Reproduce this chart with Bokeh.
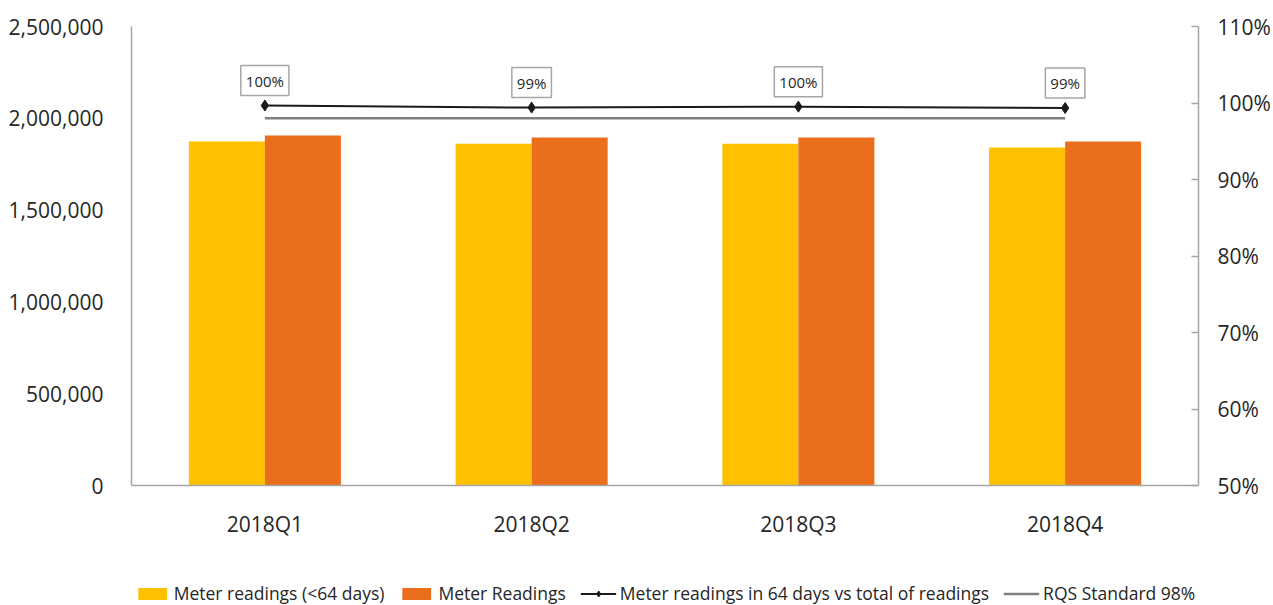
from bokeh.plotting import figure
from bokeh.layouts import column
from bokeh.models import (ColumnDataSource, FactorRange, Range1d, LinearAxis, NumeralTickFormatter,
                          FixedTicker, Legend, LegendItem)
from bokeh.core.properties import value
from bokeh.transform import dodge
from bokeh.embed import file_html
from bokeh.resources import INLINE

quarters = ["2018Q1", "2018Q2", "2018Q3", "2018Q4"]
readings_lt64 = [1873000, 1862000, 1862000, 1841000]
readings_total = [1906000, 1895000, 1895000, 1873000]
pct_in_64 = [0.9967, 0.9940, 0.9952, 0.9935]
pct_labels = ["100%", "99%", "100%", "99%"]
rqs_standard = [0.98, 0.98, 0.98, 0.98]
series_names = ["Meter readings (<64 days)", "Meter Readings",
                "Meter readings in 64 days vs total of readings", "RQS Standard 98%"]

src = ColumnDataSource(dict(q=quarters, a=readings_lt64, b=readings_total,
                            pct=pct_in_64, lab=pct_labels, rqs=rqs_standard))

FONT = "Open Sans"
TXT = "#262626"
AX = "#a6a6a6"
YEL = "#FFC000"
ORA = "#EA6E1B"
BLK = "#1a1a1a"
GRY = "#7f7f7f"

p = figure(x_range=FactorRange(*quarters), y_range=Range1d(0, 2500000),
           width=1273, height=555, output_backend="svg", toolbar_location=None,
           min_border_left=131, min_border_top=26, min_border_bottom=70, min_border_right=75)
p.extra_y_ranges = {"pct": Range1d(0.5, 1.1)}
p.outline_line_color = None
p.xgrid.grid_line_color = None
p.ygrid.grid_line_color = None

p.vbar(x=dodge("q", -0.1425, range=p.x_range), top="a", width=0.285, source=src,
       color=YEL, line_color=None)
p.vbar(x=dodge("q", 0.1425, range=p.x_range), top="b", width=0.285, source=src,
       color=ORA, line_color=None)
p.line(x="q", y="rqs", source=src, y_range_name="pct", line_color=GRY, line_width=2.5)
p.line(x="q", y="pct", source=src, y_range_name="pct", line_color=BLK, line_width=2)
p.scatter(x="q", y="pct", source=src, y_range_name="pct", marker="diamond", size=11, color=BLK)

p.text(x="q", y="pct", text="lab", source=src, y_range_name="pct", y_offset=-10,
       text_align="center", text_baseline="bottom", text_font=value(FONT), text_font_size="15px",
       text_color=TXT, border_line_color="#a6a6a6", border_line_width=1.5,
       background_fill_color="white", padding=5)

# axes
p.yaxis.ticker = FixedTicker(ticks=[0, 500000, 1000000, 1500000, 2000000, 2500000])
p.yaxis.formatter = NumeralTickFormatter(format="0,0")
for ax in [p.yaxis[0], p.xaxis[0]]:
    ax.axis_line_color = AX
    ax.axis_line_width = 1.5
    ax.major_tick_line_color = None
    ax.minor_tick_line_color = None
    ax.major_label_text_font = FONT
    ax.major_label_text_font_size = "21px"
    ax.major_label_text_color = TXT
p.yaxis.major_label_standoff = 22
p.xaxis.major_label_standoff = 18

ra = LinearAxis(y_range_name="pct", ticker=FixedTicker(ticks=[0.5, 0.6, 0.7, 0.8, 0.9, 1.0, 1.1]),
                formatter=NumeralTickFormatter(format="0%"))
ra.axis_line_color = AX
ra.axis_line_width = 1.5
ra.major_tick_line_color = AX
ra.major_tick_line_width = 1.5
ra.major_tick_in = 7
ra.major_tick_out = 0
ra.minor_tick_line_color = None
ra.major_label_text_font = FONT
ra.major_label_text_font_size = "21px"
ra.major_label_text_color = TXT
ra.major_label_standoff = 19
p.add_layout(ra, "right")

# legend strip below the chart (series drawn out of view, only their legend entries show)
lg = figure(width=1273, height=50, output_backend="svg", toolbar_location=None,
            x_range=FactorRange(*quarters), y_range=Range1d(5e6, 6e6),
            min_border_left=131, min_border_right=75, min_border_top=0, min_border_bottom=0)
lg.axis.visible = False
lg.grid.visible = False
lg.outline_line_color = None
l1 = lg.vbar(x="q", top="a", width=0.285, source=src, color=YEL, line_color=None)
l2 = lg.vbar(x="q", top="b", width=0.285, source=src, color=ORA, line_color=None)
l3 = lg.line(x="q", y="pct", source=src, line_color=BLK, line_width=2)
l3m = lg.scatter(x="q", y="pct", source=src, marker="diamond", size=11, color=BLK)
l4 = lg.line(x="q", y="rqs", source=src, line_color=GRY, line_width=2.5)
legend = Legend(items=[
    LegendItem(label=series_names[0], renderers=[l1]),
    LegendItem(label=series_names[1], renderers=[l2]),
    LegendItem(label=series_names[2], renderers=[l3, l3m]),
    LegendItem(label=series_names[3], renderers=[l4]),
], orientation="horizontal", location="bottom_center", background_fill_alpha=0, margin=0,
    border_line_color=None, label_text_font=FONT, label_text_font_size="17.5px",
    label_text_color=TXT, glyph_width=36, glyph_height=15, spacing=14, padding=0, label_standoff=4)
lg.add_layout(legend, "center")

open("out.html", "w").write(file_html(column(p, lg, spacing=0), INLINE))
